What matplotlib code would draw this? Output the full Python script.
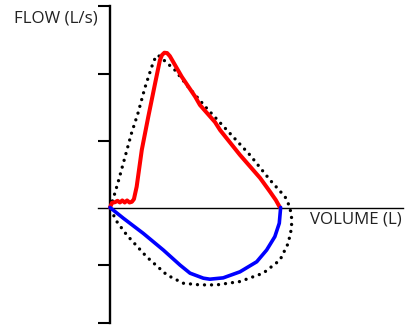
import matplotlib
matplotlib.use("Agg")
import matplotlib.pyplot as plt

# expiratory limb (measured), volume in L, flow in L/s
red_vol = [0, 0.06, 0.15, 0.22, 0.29, 0.36, 0.43, 0.50, 0.57, 0.64, 0.70, 0.78, 0.93,
           1.12, 1.32, 1.46, 1.52, 1.59, 1.67, 1.75, 2.10, 2.49, 2.63, 3.07,
           3.22, 3.80, 4.39, 4.68, 4.85, 4.97]
red_flow = [0, 0.14, 0.16, 0.20, 0.15, 0.21, 0.15, 0.21, 0.15, 0.17, 0.25, 0.62, 1.72,
            2.71, 3.71, 4.40, 4.55, 4.62, 4.61, 4.52, 3.90, 3.31, 3.06, 2.55,
            2.31, 1.57, 0.88, 0.47, 0.22, 0]

# inspiratory limb (measured)
blue_vol = [0, 0.39, 0.97, 1.56, 2.05, 2.34, 2.73, 2.92, 3.31, 3.80, 4.29,
            4.58, 4.82, 4.95, 4.99]
blue_flow = [0, -0.32, -0.77, -1.27, -1.72, -1.96, -2.11, -2.14, -2.10, -1.92,
             -1.62, -1.27, -0.87, -0.47, 0]

# predicted loop (dotted)
pred_vol = [0, 0.09, 0.23, 0.44, 0.63, 0.82, 1.02, 1.22, 1.32, 1.40, 1.51, 1.90,
            2.28, 2.83, 3.51, 4.09, 4.68, 5.12, 5.26, 5.31, 5.31, 5.21, 4.97,
            4.48, 3.80, 3.12, 2.63, 2.14, 1.66, 1.07, 0.49, 0.20, 0.10, 0]
pred_flow = [0, 0.25, 0.73, 1.51, 2.22, 2.82, 3.57, 4.20, 4.46, 4.55, 4.46, 4.10,
             3.61, 2.96, 2.21, 1.57, 0.82, 0.32, 0.01, -0.31, -0.61, -1.07, -1.57,
             -1.96, -2.21, -2.31, -2.31, -2.26, -2.01, -1.47, -0.82, -0.42, -0.22, 0]

y_ticks = [-3.45, -1.73, 2.0, 4.0, 6.0]

fig = plt.figure(figsize=(4.13, 3.27), dpi=100)
ax = fig.add_axes([0, 0, 1, 1])
ax.set_xlim(-3.216, 8.860)
ax.set_ylim(-3.567, 6.194)

ax.plot(pred_vol, pred_flow, color="black", linewidth=2.4,
        linestyle=(0, (0.01, 2.1)), dash_capstyle="round", zorder=2)
ax.plot(red_vol, red_flow, color="#ff0000", linewidth=2.9,
        solid_joinstyle="round", solid_capstyle="round", zorder=3)
ax.plot(blue_vol, blue_flow, color="#0000ff", linewidth=2.6,
        solid_joinstyle="round", solid_capstyle="round", zorder=3)

for s in ["top", "right"]:
    ax.spines[s].set_visible(False)
ax.spines["left"].set_position(("data", 0))
ax.spines["left"].set_bounds(y_ticks[0], y_ticks[-1])
ax.spines["left"].set_linewidth(1.7)
ax.spines["bottom"].set_position(("data", 0))
ax.spines["bottom"].set_bounds(-0.35, 8.57)
ax.spines["bottom"].set_linewidth(1.0)
ax.set_xticks([])
ax.set_yticks(y_ticks)
ax.set_yticklabels([])
ax.tick_params(axis="y", direction="out", length=8.6, width=1.5, color="black")
ax.set_facecolor("none")

fig.text(98 / 413, 1 - 18.5 / 327, "FLOW (L/s)", ha="right", va="center",
         fontsize=12.2, family="Open Sans", color="#222222")
fig.text(402 / 413, 1 - 219 / 327, "VOLUME (L)", ha="right", va="center",
         fontsize=12.2, family="Open Sans", color="#222222")

fig.savefig("out.png", dpi=100)
